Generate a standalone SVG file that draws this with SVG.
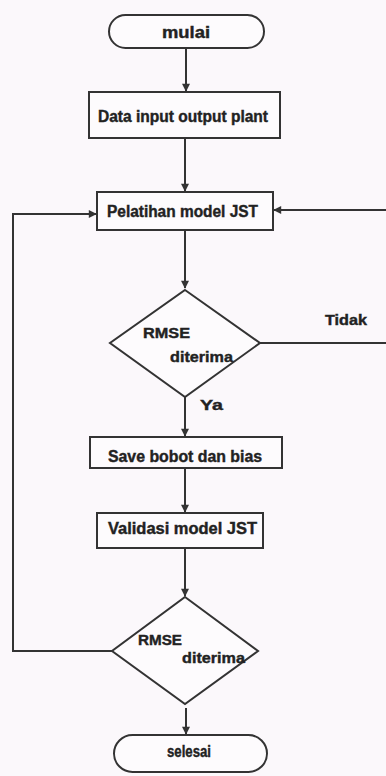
<svg xmlns="http://www.w3.org/2000/svg" width="386" height="776" viewBox="0 0 386 776">
<style>
.shape{fill:#fdfbfd;stroke:#333;stroke-width:2}
.line{fill:none;stroke:#333;stroke-width:2}
.t{font-family:"Liberation Sans",Arial,sans-serif;font-weight:bold;font-size:16px;fill:#222;stroke:#222;stroke-width:0.4}
.s{font-size:15px}
.c{text-anchor:middle}
</style>
<defs>
<marker id="ah" viewBox="0 0 10 10" refX="9" refY="5" markerWidth="10" markerHeight="8" markerUnits="userSpaceOnUse" orient="auto">
<path d="M0,0 L10,5 L0,10 Z" fill="#333"/>
</marker>
</defs>
<rect width="386" height="776" fill="#fbf8fb"/>
<g id="connectors">
<path class="line" d="M186,48 V91" marker-end="url(#ah)"/>
<path class="line" d="M185,138 V191" marker-end="url(#ah)"/>
<path class="line" d="M185,230 V288" marker-end="url(#ah)"/>
<path class="line" d="M185,397 V436" marker-end="url(#ah)"/>
<path class="line" d="M185,468 V512" marker-end="url(#ah)"/>
<path class="line" d="M185,548 V596" marker-end="url(#ah)"/>
<path class="line" d="M186,708 V734" marker-end="url(#ah)"/>
<path class="line" d="M260,343 H392 V210 H274" marker-end="url(#ah)"/>
<path class="line" d="M112,651 H13 V214 H96" marker-end="url(#ah)"/>
<text class="t s" x="325" y="325" textLength="42" lengthAdjust="spacingAndGlyphs">Tidak</text>
<text class="t s" x="200" y="410" textLength="23" lengthAdjust="spacingAndGlyphs">Ya</text>
</g>
<g id="mulai">
<rect class="shape" x="109" y="15" width="155" height="33" rx="16.5"/>
<text class="t" x="162" y="38" font-size="17" textLength="48" lengthAdjust="spacingAndGlyphs">mulai</text>
</g>
<g id="data">
<rect class="shape" x="89" y="92" width="191" height="46"/>
<text class="t" x="98" y="122" textLength="170" lengthAdjust="spacingAndGlyphs">Data input output plant</text>
</g>
<g id="pelatihan">
<rect class="shape" x="97" y="192" width="176" height="38"/>
<text class="t" x="107" y="217" textLength="151" lengthAdjust="spacingAndGlyphs">Pelatihan model JST</text>
</g>
<g id="rmse1">
<polygon class="shape" points="185,290 260,343 185,397 110,343"/>
<text class="t s" x="143" y="338" textLength="47" lengthAdjust="spacingAndGlyphs">RMSE</text>
<text class="t s" x="170" y="362" textLength="63" lengthAdjust="spacingAndGlyphs">diterima</text>
</g>
<g id="save">
<rect class="shape" x="90" y="437" width="192" height="31"/>
<text class="t" x="108" y="462" textLength="154" lengthAdjust="spacingAndGlyphs">Save bobot dan bias</text>
</g>
<g id="validasi">
<rect class="shape" x="97" y="513" width="166" height="35"/>
<text class="t" x="108" y="534" textLength="149" lengthAdjust="spacingAndGlyphs">Validasi model JST</text>
</g>
<g id="rmse2">
<polygon class="shape" points="185,597 258,651 185,704 112,651"/>
<text class="t s" x="138" y="645" textLength="44" lengthAdjust="spacingAndGlyphs">RMSE</text>
<text class="t s" x="182" y="663" textLength="63" lengthAdjust="spacingAndGlyphs">diterima</text>
</g>
<g id="selesai">
<rect class="shape" x="114" y="735" width="153" height="37" rx="18.5"/>
<text class="t" x="167" y="757" textLength="44" lengthAdjust="spacingAndGlyphs">selesai</text>
</g>
</svg>
